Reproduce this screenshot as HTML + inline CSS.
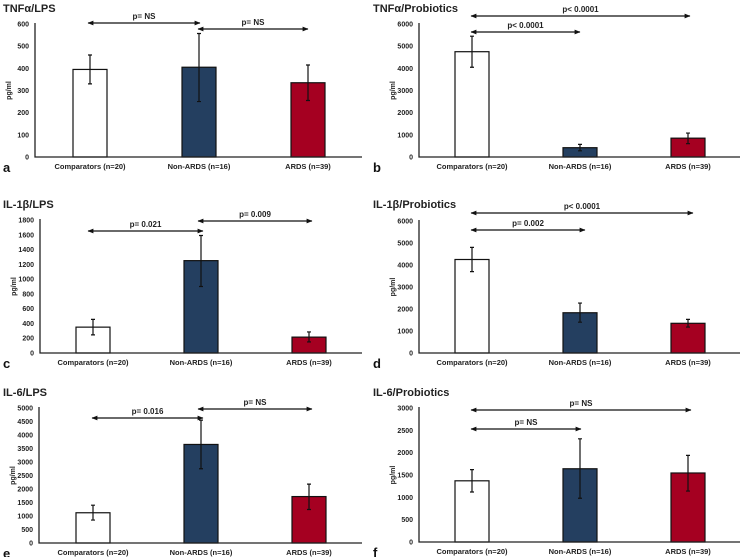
<!DOCTYPE html>
<html><head><meta charset="utf-8"><style>
body{margin:0;background:#fff}
svg{display:block;font-family:"Liberation Sans",Arial,sans-serif;font-weight:bold}
</style></head><body>
<svg id="chart" width="741" height="557" viewBox="0 0 741 557">
<defs><marker id="ah" viewBox="0 0 10 10" refX="9" refY="5" markerWidth="5" markerHeight="5" orient="auto-start-reverse"><path d="M0,1L10,5L0,9z" fill="#111"/></marker></defs>
</svg>
<script>
const categories=["Comparators (n=20)","Non-ARDS (n=16)","ARDS (n=39)"];
const colors=["#ffffff","#243f60","#a50021"];
const titles=["TNFα/LPS","TNFα/Probiotics","IL-1β/LPS","IL-1β/Probiotics","IL-6/LPS","IL-6/Probiotics"];
const letters=["a","b","c","d","e","f"];
const yMaxes=[600,6000,1800,6000,5000,3000];
const yStep=[100,1000,200,1000,500,500];
const meansA=[395,405,335], lowA=[330,250,255], highA=[460,557,415];
const meansB=[4750,420,850], lowB=[4050,280,600], highB=[5450,570,1080];
const meansC=[350,1250,215], lowC=[245,900,150], highC=[455,1590,285];
const meansD=[4250,1830,1350], lowD=[3700,1400,1180], highD=[4800,2270,1530];
const meansE=[1120,3650,1720], lowE=[850,2750,1240], highE=[1400,4550,2180];
const meansF=[1370,1640,1545], lowF=[1120,980,1140], highF=[1620,2310,1940];
const pLabelsA=["p= NS","p= NS"], pLabelsB=["p< 0.0001","p< 0.0001"];
const pLabelsC=["p= 0.021","p= 0.009"], pLabelsD=["p= 0.002","p< 0.0001"];
const pLabelsE=["p= 0.016","p= NS"], pLabelsF=["p= NS","p= NS"];
const means=[meansA,meansB,meansC,meansD,meansE,meansF];
const lows=[lowA,lowB,lowC,lowD,lowE,lowF];
const highs=[highA,highB,highC,highD,highE,highF];
const pl=[pLabelsA,pLabelsB,pLabelsC,pLabelsD,pLabelsE,pLabelsF];
// layout
const L=[{ax:35,top:24,bot:157,ty:7,bars:[73,182,291]},{ax:419,top:24,bot:157,ty:7,bars:[455,563,671]},
{ax:40,top:220,bot:353,ty:203,bars:[76,184,292]},{ax:419,top:221,bot:353,ty:203,bars:[455,563,671]},
{ax:39,top:408,bot:543,ty:391,bars:[76,184,292]},{ax:419,top:408,bot:542,ty:391,bars:[455,563,671]}];
const arrows=[[[23,88,200],[29,198,308]],[[32,471,580],[16,471,690]],[[231,88,203],[221,198,312]],[[230,471,585],[213,471,693]],[[418,92,203],[409,198,312]],[[429,471,581],[410,471,691]]];
const svg=document.getElementById('chart');const NS="http://www.w3.org/2000/svg";
function mk(t,a,p){const e=document.createElementNS(NS,t);for(const k in a)e.setAttribute(k,a[k]);(p||svg).appendChild(e);return e;}
for(let i=0;i<6;i++){
 const g=mk('g',{});
 
 
 const l=L[i];const right=i%2?740:362;
 const y=v=>l.bot-(v/yMaxes[i])*(l.bot-l.top);
 const t=mk('text',{x:i%2?373:3,y:l.ty+5,'font-size':11,fill:'#222'},g);t.textContent=titles[i];
 
 
 const lt=mk('text',{x:i%2?373:3,y:l.bot+15,'font-size':13,fill:'#111'},g);lt.textContent=letters[i];
 
 
 for(let v=0;v<=yMaxes[i];v+=yStep[i]){const tk=mk('text',{x:l.ax-6,y:y(v)+2.5,'font-size':7,'text-anchor':'end',fill:'#222'},g);tk.textContent=v;
  
  }
 const yt=mk('text',{transform:`translate(${l.ax-24},${(l.top+l.bot)/2}) rotate(-90)`,'font-size':7,'text-anchor':'middle',fill:'#222'},g);yt.textContent='pg/ml';
 
 
 for(let j=0;j<3;j++){
  const x0=l.bars[j];
  const b=mk('rect',{x:x0,y:y(means[i][j]),width:34,height:l.bot-y(means[i][j]),fill:colors[j],stroke:'#111','stroke-width':1.2},g);
  
  
  const cx=x0+17;
  const eb=mk('path',{d:`M${cx},${y(lows[i][j])}V${y(highs[i][j])}M${cx-2},${y(lows[i][j])}H${cx+2}M${cx-2},${y(highs[i][j])}H${cx+2}`,stroke:'#111','stroke-width':1.2,fill:'none'},g);
  
  
  const cl=mk('text',{x:cx,y:l.bot+12,'font-size':7.5,'text-anchor':'middle',fill:'#222'},g);cl.textContent=categories[j];
  
  
 }
 const ax=mk('path',{d:`M${l.ax},${l.top-1}V${l.bot}H${right}`,stroke:'#222','stroke-width':1.3,fill:'none'},g);
 
 
 for(let k=0;k<2;k++){const [ay,x1,x2]=arrows[i][k];
  const ar=mk('line',{x1:x1,y1:ay,x2:x2,y2:ay,stroke:'#111','stroke-width':1.2,'marker-start':'url(#ah)','marker-end':'url(#ah)'},g);
  
  
  const pt=mk('text',{x:(x1+x2)/2,y:ay-4,'font-size':8,'text-anchor':'middle',fill:'#222'},g);pt.textContent=pl[i][k];
  
  }
}
</script>
</body></html>
